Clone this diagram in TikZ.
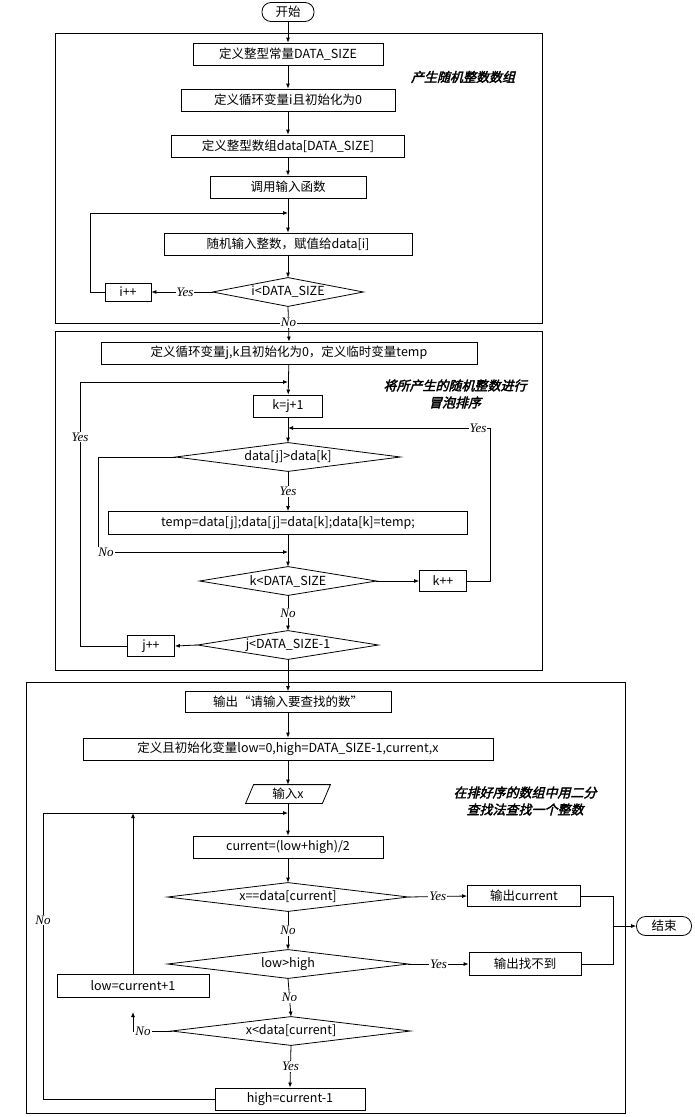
\documentclass[tikz,border=0pt]{standalone}
\usepackage{fontspec}
\setmainfont{Noto Sans CJK SC}
\newfontfamily\lab{Liberation Serif}
\newfontfamily\cjkbi[FakeSlant=0.25,FakeBold=2.5]{Noto Sans CJK SC}
\usetikzlibrary{arrows.meta}
\begin{document}
\begin{tikzpicture}[x=1pt,y=-1pt,line width=0.8pt,
  >={Latex[length=5pt,width=4pt]},
  every node/.style={font=\fontsize{12.5}{13}\selectfont},
  bx/.style={draw,minimum height=22pt,inner sep=1pt},
  dm/.style={minimum height=28pt,inner sep=0pt},
  lb/.style={font=\lab\itshape\fontsize{13}{14}\selectfont,fill=white,inner sep=1pt},
  ttl/.style={font=\cjkbi\fontsize{13}{17}\selectfont,align=center},
  term/.style={draw,rounded corners=9pt,minimum height=19pt,inner sep=1pt}]
\useasboundingbox (0,0) rectangle (694,1117);
% frames
\draw (55,33) rectangle (542,323);
\draw (55,331) rectangle (542,670);
\draw (26,682) rectangle (625,1113);
% ---------- part 1
\node[term,minimum width=52pt] (st) at (288,12) {开始};
\node[bx,minimum width=190pt] (a1) at (288,54) {定义整型常量DATA\_SIZE};
\node[bx,minimum width=214pt] (a2) at (288,100) {定义循环变量i且初始化为0};
\node[bx,minimum width=233pt] (a3) at (288,146) {定义整型数组data[DATA\_SIZE]};
\node[bx,minimum width=156pt] (a4) at (288,187) {调用输入函数};
\node[bx,minimum width=248pt] (a5) at (288,244) {随机输入整数，赋值给data[i]};
\node[dm,minimum width=150pt] (d1) at (288,292) {i<DATA\_SIZE};
\draw (d1.west)--(d1.north)--(d1.east)--(d1.south)--cycle;
\node[bx,minimum width=46pt,minimum height=18pt] (ip) at (128,292) {i++};
\node[ttl] (t1) at (463,77) {产生随机整数数组};
\coordinate (j1) at (288,213);
\draw[->] (st)--(a1); \draw[->] (a1)--(a2); \draw[->] (a2)--(a3); \draw[->] (a3)--(a4);
\draw[->] (a4)--(a5); \draw[->] (a5)--(d1);
\draw[->] (d1.west)--(ip.east) node[lb,pos=0.45] {Yes};
\draw[->] (ip.west)--(90,292)--(90,213)--(j1);
% ---------- part 2
\node[bx,minimum width=376pt] (b1) at (289,353) {定义循环变量j,k且初始化为0，定义临时变量temp};
\draw[->] (d1.south)--(b1.north) node[lb,pos=0.45] {No};
\node[ttl] (t2) at (455,394) {将所产生的随机整数进行\\冒泡排序};
\node[bx,minimum width=69pt] (b2) at (288,406) {k=j+1};
\node[dm,minimum width=224pt] (d2) at (288,457) {data[j]>data[k]};
\draw (d2.west)--(d2.north)--(d2.east)--(d2.south)--cycle;
\node[bx,minimum width=359pt,minimum height=23pt] (b3) at (288,523) {temp=data[j];data[j]=data[k];data[k]=temp;};
\node[dm,minimum width=176pt] (d3) at (288,581) {k<DATA\_SIZE};
\draw (d3.west)--(d3.north)--(d3.east)--(d3.south)--cycle;
\node[bx,minimum width=47pt,minimum height=21pt] (kp) at (443,581) {k++};
\node[dm,minimum width=180pt] (d4) at (288,645) {j<DATA\_SIZE-1};
\draw (d4.west)--(d4.north)--(d4.east)--(d4.south)--cycle;
\node[bx,minimum width=47pt,minimum height=21pt] (jp) at (151,646) {j++};
\coordinate (j2) at (288,382); \coordinate (j3) at (288,428); \coordinate (j4) at (288,552);
\draw[->] (b1)--(b2); \draw[->] (b2)--(d2);
\draw[->] (d2.south)--(b3.north) node[lb,pos=0.5] {Yes};
\draw[->] (b3)--(d3);
\draw[->] (d2.west)--(98,457)--(98,552)--(j4);
\node[lb] at (106,552) {No};
\draw[->] (d3.east)--(kp.west);
\draw[->] (kp.east)--(490,581)--(490,428)--(j3);
\node[lb] at (478,428) {Yes};
\draw[->] (d3.south)--(d4.north) node[lb,pos=0.5] {No};
\draw[->] (d4.west)--(jp.east);
\draw[->] (jp.west)--(80,646)--(80,382)--(j2);
\node[lb] at (80,437) {Yes};
% ---------- part 3
\node[bx,minimum width=206pt,minimum height=21pt] (c1) at (288,702) {输出“请输入要查找的数”};
\draw[->] (d4.south)--(c1.north);
\node[bx,minimum width=410pt] (c2) at (288,749) {定义且初始化变量low=0,high=DATA\_SIZE-1,current,x};
\node[minimum width=76pt,minimum height=18pt,inner sep=0pt] (c3) at (288,794) {输入x};
\draw ([xshift=-4pt]c3.south west)--([xshift=4pt]c3.north west)--([xshift=4pt]c3.north east)--([xshift=-4pt]c3.south east)--cycle;
\node[ttl] (t3) at (525,801) {在排好序的数组中用二分\\查找法查找一个整数};
\coordinate (j5) at (288,813);
\node[bx,minimum width=190pt] (c4) at (288,847) {current=(low+high)/2};
\node[dm,minimum width=240pt] (d5) at (288,897) {x==data[current]};
\draw (d5.west)--(d5.north)--(d5.east)--(d5.south)--cycle;
\node[bx,minimum width=113pt,minimum height=21pt] (o1) at (524,896) {输出current};
\node[dm,minimum width=240pt] (d6) at (288,964) {low>high};
\draw (d6.west)--(d6.north)--(d6.east)--(d6.south)--cycle;
\node[bx,minimum width=112pt,minimum height=23pt] (o2) at (525,964) {输出找不到};
\node[term,minimum width=55pt] (en) at (664,926) {结束};
\node[bx,minimum width=152pt,minimum height=23pt] (lo) at (133,986) {low=current+1};
\node[dm,minimum width=238pt] (d7) at (291,1031) {x<data[current]};
\draw (d7.west)--(d7.north)--(d7.east)--(d7.south)--cycle;
\node[bx,minimum width=150pt] (hi) at (290,1099) {high=current-1};
\draw[->] (c1)--(c2); \draw[->] (c2)--(c3); \draw[->] (c3)--(c4); \draw[->] (c4)--(d5);
\draw[->] (d5.east)--(o1.west) node[lb,pos=0.5] {Yes};
\draw[->] (d6.east)--(o2.west) node[lb,pos=0.5] {Yes};
\draw (o1.east)--(613,896)--(613,964)--(o2.east);
\draw[->] (613,926)--(en.west);
\draw[->] (d5.south)--(d6.north) node[lb,pos=0.5] {No};
\draw[->] (d6.south)--(d7.north) node[lb,pos=0.5] {No};
\draw[->] (d7.south)--(hi.north) node[lb,pos=0.5] {Yes};
\draw[->] (lo.north)--(133,813);
\coordinate (nup) at (133,1012);
\draw[->] (d7.west)--(133,1031)--(nup);
\node[lb] at (143,1031) {No};
\draw[->] (hi.west)--(43,1099)--(43,813)--(j5);
\node[lb] at (43,920) {No};
\end{tikzpicture}
\end{document}
